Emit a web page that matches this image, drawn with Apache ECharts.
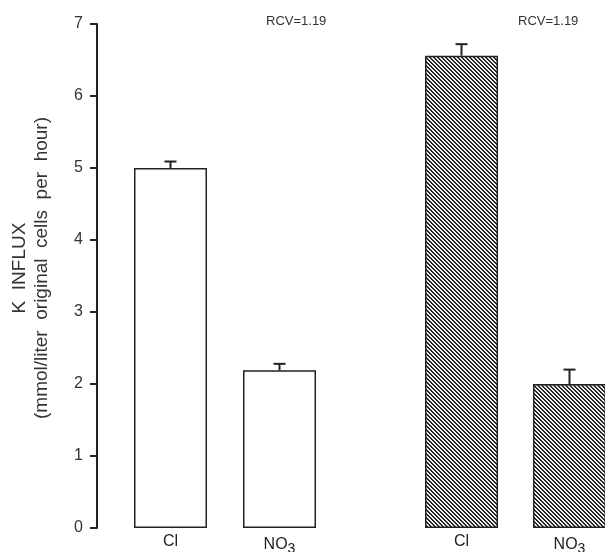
<!DOCTYPE html>
<html>
<head>
<meta charset="utf-8">
<script src="https://cdn.jsdelivr.net/npm/echarts@6/dist/echarts.min.js"></script>
<style>html,body{margin:0;padding:0;background:#fff;}#c{width:605px;height:552px;}</style>
</head>
<body>
<div id="c"></div>
<script>
// ---- data ----
const categories = ['Cl', 'NO3'];
const leftValues = [5.0, 2.19];
const leftErrors = [0.09, 0.09];
const rightValues = [6.56, 2.0];
const rightErrors = [0.16, 0.2];
const yTicks = [0, 1, 2, 3, 4, 5, 6, 7];
const panelNotes = ['RCV=1.19', 'RCV=1.19'];
const yName = ['K  INFLUX', '(mmol/liter  original  cells  per  hour)'];

// ---- hatch pattern ----
function makeHatch() {
  const c = document.createElement('canvas');
  c.width = 4; c.height = 4;
  const g = c.getContext('2d');
  g.fillStyle = '#f0f0f0'; g.fillRect(0, 0, 4, 4);
  g.fillStyle = '#262626';
  for (let i = 0; i < 4; i++) {
    g.fillRect(i, i, 1, 1);
    g.fillRect((i + 1) % 4, i, 1, 1);
  }
  return c;
}
const hatch = { image: makeHatch(), repeat: 'repeat' };

const chart = echarts.init(document.getElementById('c'), null, { renderer: 'canvas' });

const labelFont = 'Liberation Sans, Arial, sans-serif';

function errorSeries(xIdx, yIdx, values, errors) {
  return {
    type: 'custom',
    xAxisIndex: xIdx, yAxisIndex: yIdx,
    data: values.map((v, i) => [i, v, v + errors[i]]),
    z: 5,
    renderItem: function (params, api) {
      const x = api.value(0);
      const lo = api.coord([x, api.value(1)]);
      const hi = api.coord([x, api.value(2)]);
      const half = 6;
      return {
        type: 'group',
        children: [
          { type: 'line', shape: { x1: lo[0], y1: lo[1], x2: hi[0], y2: hi[1] }, style: { stroke: '#222', lineWidth: 2 } },
          { type: 'line', shape: { x1: hi[0] - half, y1: hi[1], x2: hi[0] + half, y2: hi[1] }, style: { stroke: '#222', lineWidth: 2 } }
        ]
      };
    }
  };
}

const xLabel = {
  fontSize: 16, color: '#222', fontFamily: labelFont, margin: 6,
  formatter: v => v === 'NO3' ? 'NO{sub|3}' : v,
  rich: { sub: { fontSize: 14, verticalAlign: 'bottom', padding: [8, 0, 0, 0], color: '#222', fontFamily: labelFont } }
};

const option = {
  animation: false,
  backgroundColor: '#fff',
  grid: [
    { left: 116, width: 218, top: 24, bottom: 24, containLabel: false, outerBoundsMode: 'none' },
    { left: 407.5, width: 216, top: 24, bottom: 24, containLabel: false, outerBoundsMode: 'none' }
  ],
  xAxis: [
    { gridIndex: 0, type: 'category', data: categories, axisLine: { show: false }, axisTick: { show: false }, axisLabel: xLabel },
    { gridIndex: 1, type: 'category', data: categories, axisLine: { show: false }, axisTick: { show: false }, axisLabel: xLabel }
  ],
  yAxis: [
    {
      gridIndex: 0, type: 'value', min: yTicks[0], max: yTicks[yTicks.length - 1], interval: 1,
      offset: 19, position: 'left',
      axisLine: { show: true, lineStyle: { color: '#222', width: 2 } },
      axisTick: { show: true, length: 7, lineStyle: { color: '#222', width: 2 } },
      axisLabel: { fontSize: 16, color: '#333', fontFamily: labelFont, margin: 14 },
      splitLine: { show: false },
      name: yName.join('\n'), nameLocation: 'middle', nameGap: 44, nameRotate: 90,
      nameTextStyle: { fontSize: 19, color: '#333', fontFamily: labelFont, lineHeight: 22, padding: [0, 0, 0, 16] }
    },
    {
      gridIndex: 1, type: 'value', min: yTicks[0], max: yTicks[yTicks.length - 1], interval: 1,
      show: false
    }
  ],
  series: [
    {
      type: 'bar', xAxisIndex: 0, yAxisIndex: 0, data: leftValues, barWidth: 73,
      itemStyle: { color: '#fff', borderColor: '#222', borderWidth: 1.5 }
    },
    {
      type: 'bar', xAxisIndex: 1, yAxisIndex: 1, data: rightValues, barWidth: 73,
      itemStyle: { color: hatch, borderColor: '#222', borderWidth: 1.5 }
    },
    errorSeries(0, 0, leftValues, leftErrors),
    errorSeries(1, 1, rightValues, rightErrors)
  ],
  graphic: [
    { type: 'text', left: 266, top: 15, style: { text: panelNotes[0], fontSize: 13, fill: '#333', fontFamily: labelFont } },
    { type: 'text', left: 518, top: 15, style: { text: panelNotes[1], fontSize: 13, fill: '#333', fontFamily: labelFont } }
  ]
};
chart.setOption(option);
</script>
</body>
</html>
